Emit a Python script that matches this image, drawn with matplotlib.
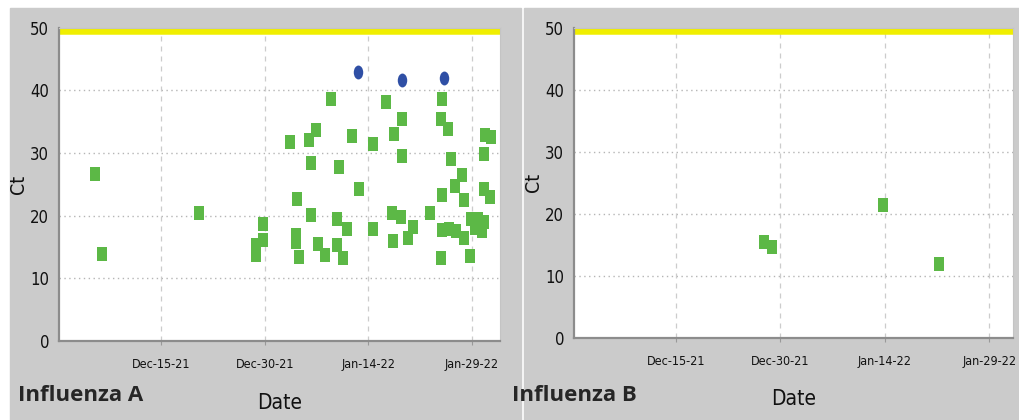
import numpy as np
import pandas as pd
import matplotlib
matplotlib.use('Agg')
import matplotlib.pyplot as plt
import matplotlib.dates as mdates
from matplotlib.path import Path
from matplotlib.patches import Rectangle

# sample days counted from Dec-15-21, Ct values
flu_a_day = [-9.5, -8.6, 5.45, 13.7, 13.75, 14.7, 14.8, 18.6, 19.7, 19.5, 19.5, 19.9,
             21.4, 22.4, 21.7, 21.7, 22.7, 23.7, 24.65, 25.7, 25.5, 25.5, 26.3, 26.9,
             27.6, 28.6, 30.7, 30.7, 32.6, 33.7, 33.4, 33.6, 34.9, 34.9, 34.7, 35.8,
             36.4, 38.9, 40.7, 40.5, 41.5, 40.7, 40.6, 40.5, 41.9, 41.6, 42.6, 43.6,
             42.7, 43.8, 43.9, 44.7, 44.8, 45.8, 46.2, 46.8, 46.8, 46.9, 47.7, 47.6,
             46.7, 45.5, 46.5]
flu_a_ct = [26.7, 13.95, 20.5, 15.3, 13.8, 18.7, 16.1, 31.8, 22.6, 16.9, 15.8, 13.4,
            32.1, 33.7, 28.4, 20.1, 15.5, 13.7, 38.6, 27.8, 19.5, 15.3, 13.3, 17.9,
            32.7, 24.3, 31.4, 17.9, 38.2, 33.0, 20.5, 16.0, 35.4, 29.6, 19.8, 16.5,
            18.2, 20.5, 38.6, 35.4, 33.9, 23.3, 17.7, 13.3, 29.1, 17.8, 24.8, 26.5,
            17.5, 22.5, 16.5, 13.5, 19.5, 19.5, 18.2, 29.8, 24.3, 32.9, 32.6, 23.0,
            19.0, 18.0, 17.5]

# late (high Ct) results, blue
flu_a_late_day = [28.5, 34.8, 40.9]
flu_a_late_ct = [43.0, 41.7, 41.9]

flu_b_day = [12.7, 13.8, 29.7, 37.8]
flu_b_ct = [15.4, 14.7, 21.4, 12.0]

# undetected samples are plotted at Ct = 50
no_ct = 50

start = pd.Timestamp('2021-12-15')
tick_dates = ['2021-12-15', '2021-12-30', '2022-01-14', '2022-01-29']


def to_dates(days):
    return start + pd.to_timedelta(days, unit='D')


green = '#5cb846'
blue = '#2f4fa5'
yellow = '#f0ee00'
grey_bg = '#cbcbcb'

narrow = dict(family='DejaVu Sans', stretch='condensed')

# marker shapes: tall rectangle and tall ellipse
rect = [(-0.32, -0.5), (0.32, -0.5), (0.32, 0.5), (-0.32, 0.5)]
circ = Path.unit_circle()
ellipse = Path(circ.vertices * np.array([0.68, 1.0]), circ.codes)

fig = plt.figure(figsize=(10.2, 4.2), dpi=100, facecolor='white')
fig.patches.append(Rectangle((10 / 1020, 0), 511 / 1020, 412 / 420,
                             transform=fig.transFigure, color=grey_bg, zorder=-10))
fig.patches.append(Rectangle((524 / 1020, 0), 496 / 1020, 412 / 420,
                             transform=fig.transFigure, color=grey_bg, zorder=-10))

ax_a = fig.add_axes([59 / 1020, 79 / 420, 441 / 1020, 313.3 / 420])
ax_b = fig.add_axes([574 / 1020, 82 / 420, 439 / 1020, 310.3 / 420])


def style(ax, xlim):
    ax.set_facecolor('white')
    ax.set_ylim(0, 50)
    ax.set_xlim(to_dates(xlim[0]), to_dates(xlim[1]))
    ax.set_yticks([0, 10, 20, 30, 40, 50])
    ax.set_xticks(pd.to_datetime(tick_dates))
    ax.xaxis.set_major_formatter(mdates.DateFormatter('%b-%d-%y'))
    for lab in ax.get_yticklabels():
        lab.set(fontsize=12, **narrow)
    for lab in ax.get_xticklabels():
        lab.set(fontsize=9, **narrow)
    ax.tick_params(axis='y', length=0, pad=7, colors='#111111')
    ax.tick_params(axis='x', length=3, pad=9, color='#999999', labelcolor='#111111')
    for y in [10, 20, 30, 40]:
        ax.axhline(y, color='#b5b5b5', lw=1, ls=(0, (1, 2.5)), zorder=0)
    for d in tick_dates:
        ax.axvline(pd.Timestamp(d), color='#cccccc', lw=0.9, ls=(0, (4, 4)), zorder=0)
    ax.spines['left'].set_color('#8c8c8c')
    ax.spines['bottom'].set_color('#8c8c8c')
    ax.spines['left'].set_linewidth(1.6)
    ax.spines['bottom'].set_linewidth(1.6)
    ax.spines['top'].set_color('#c4c4c4')
    ax.spines['right'].set_color('#c4c4c4')
    ax.set_ylabel('Ct', fontsize=14, color='#111111', **narrow)
    ax.yaxis.set_label_coords(-0.07, 0.5)
    ax.set_xlabel('Date', fontsize=15, color='#111111', **narrow)
    ax.xaxis.set_label_coords(0.5, -0.165)
    ax.axhline(no_ct, xmin=0.008, xmax=0.993, color=yellow, lw=9, zorder=1)


style(ax_a, (-14.76, 49.05))
style(ax_b, (-14.59, 48.4))

ax_a.scatter(to_dates(flu_a_day), flu_a_ct, marker=rect, s=110, color=green, lw=0, zorder=3)
ax_a.scatter(to_dates(flu_a_late_day), flu_a_late_ct, marker=ellipse, s=100, color=blue,
             lw=0, zorder=3)
ax_b.scatter(to_dates(flu_b_day), flu_b_ct, marker=rect, s=110, color=green, lw=0, zorder=3)

fig.text(18 / 1020, 19 / 420, 'Influenza A', fontsize=16, fontweight='bold',
         family=['Open Sans', 'DejaVu Sans'], color='#262626', va='baseline')
fig.text(512 / 1020, 19 / 420, 'Influenza B', fontsize=16, fontweight='bold',
         family=['Open Sans', 'DejaVu Sans'], color='#262626', va='baseline')

fig.savefig('out.png', dpi=100, facecolor=fig.get_facecolor())
